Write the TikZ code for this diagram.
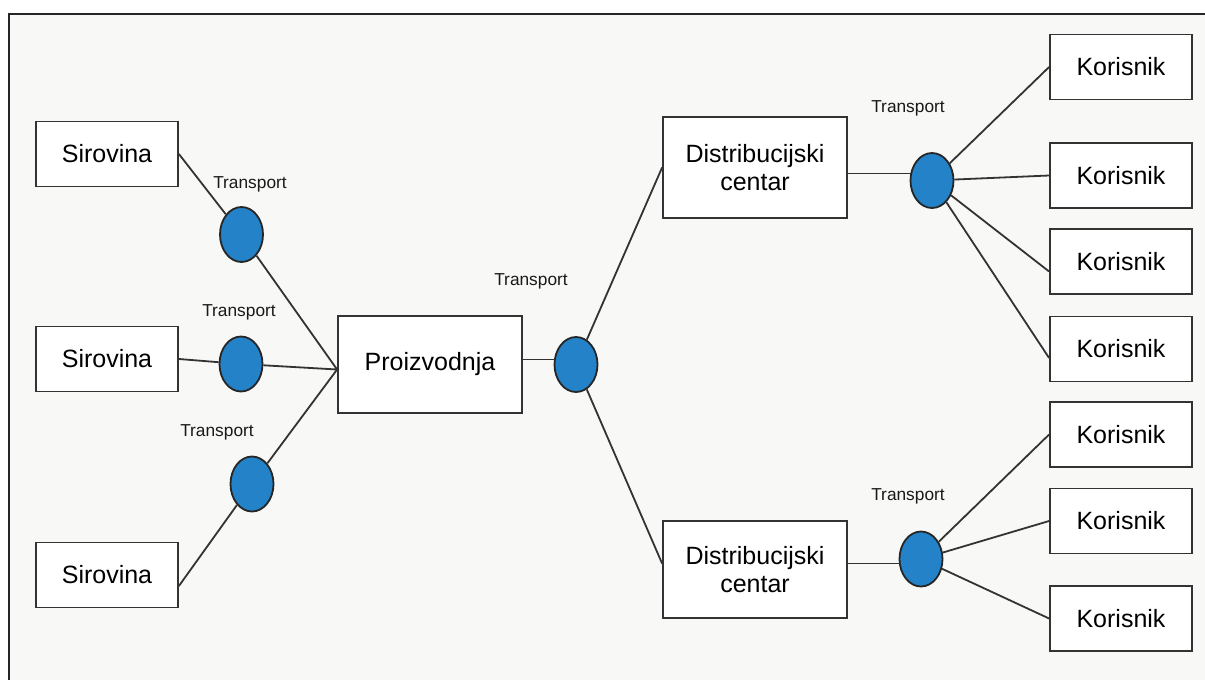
\documentclass[tikz,border=0pt]{standalone}
\usepackage{fontspec}
\setmainfont{Liberation Sans}
\usetikzlibrary{shapes.geometric}
\definecolor{edgec}{HTML}{333333}
\definecolor{bluefill}{HTML}{2382C8}
\definecolor{bgc}{HTML}{F8F8F6}
\tikzset{
  boxsmall/.style={draw=edgec, line width=1.8pt, fill=white, minimum width=142pt, minimum height=65pt, inner sep=0pt, font=\fontsize{25}{28}\selectfont},
  boxbig/.style={draw=edgec, line width=1.8pt, fill=white, minimum width=184pt, minimum height=99pt, inner sep=0pt, align=center, font=\fontsize{25}{28}\selectfont},
  hub/.style={ellipse, draw=black!85, line width=1.8pt, fill=bluefill, minimum width=43pt, minimum height=55pt, inner sep=0pt},
  conn/.style={draw=edgec, line width=1.8pt},
  tlabel/.style={font=\fontsize{17.3}{20}\selectfont, text=black!90, inner sep=0pt}
}
\begin{document}
\begin{tikzpicture}[x=1pt, y=-1pt]
\useasboundingbox (0,0) rectangle (1205,680);
\fill[white] (0,0) rectangle (1205,680);
\fill[bgc] (9,14) rectangle (1205,680);
\draw[line width=2pt, black!85] (9,680) -- (9,14) -- (1205,14);

% boxes
\node[boxsmall] (s1) at (107,154) {Sirovina};
\node[boxsmall] (s2) at (107,359) {Sirovina};
\node[boxsmall] (s3) at (107,575) {Sirovina};
\node[boxbig, minimum height=97pt] (p) at (430,364.5) {Proizvodnja};
\node[boxbig, minimum height=101pt] (d1) at (755,167.5) {Distribucijski\\centar};
\node[boxbig, minimum height=97pt] (d2) at (755,569.5) {Distribucijski\\centar};
\node[boxsmall] (k1) at (1121,67) {Korisnik};
\node[boxsmall] (k2) at (1121,175.5) {Korisnik};
\node[boxsmall] (k3) at (1121,261.5) {Korisnik};
\node[boxsmall] (k4) at (1121,349) {Korisnik};
\node[boxsmall] (k5) at (1121,434.5) {Korisnik};
\node[boxsmall] (k6) at (1121,521) {Korisnik};
\node[boxsmall] (k7) at (1121,618.5) {Korisnik};

% hubs
\node[hub] (e1) at (241.5,234.5) {};
\node[hub] (e2) at (241,364) {};
\node[hub] (e3) at (252,484) {};
\node[hub] (em) at (576,364.5) {};
\node[hub] (eu) at (932,180.5) {};
\node[hub] (el) at (921,559) {};

% labels
\node[tlabel] (l1) at (250,184) {Transport};
\node[tlabel] (l2) at (239,312) {Transport};
\node[tlabel] (l3) at (217,432) {Transport};
\node[tlabel] (lm) at (531,281) {Transport};
\node[tlabel] (lu) at (908,108) {Transport};
\node[tlabel] (ll) at (908,496) {Transport};

% connectors
\coordinate (pin) at ([yshift=-5pt]p.west);
\coordinate (pout) at ([yshift=5pt]p.east);
\coordinate (d1out) at ([yshift=-6pt]d1.east);
\coordinate (d2out) at ([yshift=6pt]d2.east);
\draw[conn] (s1.east) -- (e1);
\draw[conn] (e1) -- (pin);
\draw[conn] (s2.east) -- (e2);
\draw[conn] (e2) -- (pin);
\draw[conn] ([yshift=-11pt]s3.east) -- (e3);
\draw[conn] (e3) -- (pin);
\draw[conn] (pout) -- ([xshift=1pt]pout -| em.west);
\draw[conn] (em) -- (d1.west);
\draw[conn] (em) -- ([yshift=6pt]d2.west);
\draw[conn] (d1out) -- ([xshift=1pt]d1out -| eu.west);
\draw[conn] (d2out) -- ([xshift=1pt]d2out -| el.west);
\draw[conn] (eu) -- (k1.west);
\draw[conn] (eu) -- (k2.west);
\draw[conn] (eu) -- ([yshift=-10pt]k3.west);
\draw[conn] (eu) -- ([yshift=-9pt]k4.west);
\draw[conn] (el) -- (k5.west);
\draw[conn] (el) -- (k6.west);
\draw[conn] (el) -- (k7.west);
\end{tikzpicture}
\end{document}
